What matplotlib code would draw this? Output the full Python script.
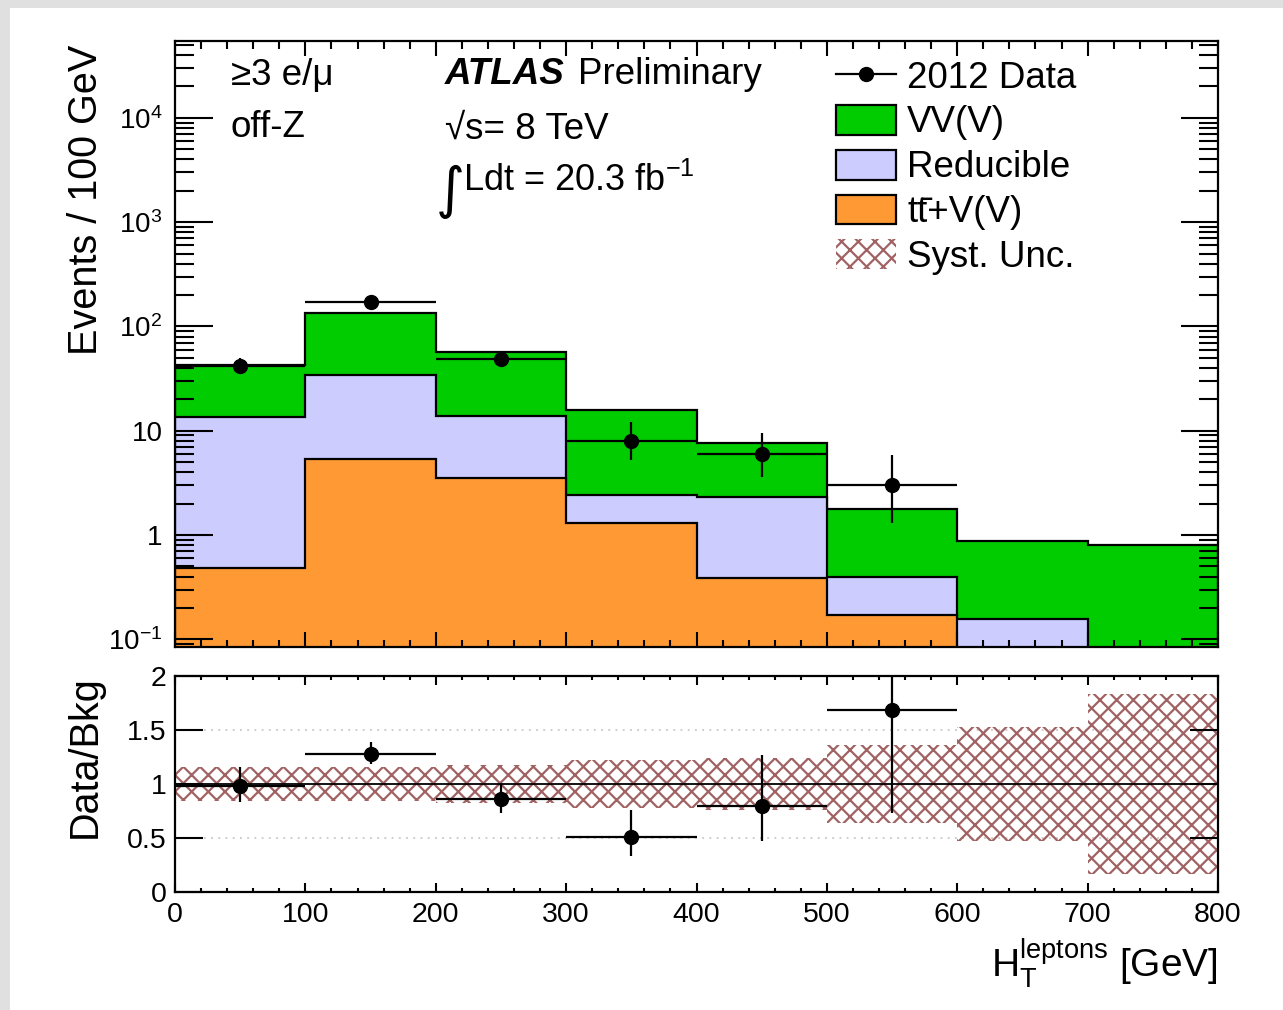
import numpy as np
import matplotlib
matplotlib.use("Agg")
import matplotlib.pyplot as plt
from matplotlib.patches import Patch, Rectangle
from matplotlib.lines import Line2D
from matplotlib.ticker import LogLocator, NullFormatter, MultipleLocator

plt.rcParams['font.family'] = ['Liberation Sans', 'DejaVu Sans']
plt.rcParams['mathtext.fontset'] = 'custom'
plt.rcParams['mathtext.rm'] = 'Liberation Sans'
plt.rcParams['mathtext.it'] = 'Liberation Sans:italic'
plt.rcParams['mathtext.bf'] = 'Liberation Sans:bold'
plt.rcParams['mathtext.default'] = 'regular'
plt.rcParams['hatch.linewidth'] = 1.6

# ── data (events / 100 GeV) ──
edges = [0, 100, 200, 300, 400, 500, 600, 700, 800]
ttv = [0.48, 5.3, 3.5, 1.3, 0.39, 0.17, 0.0, 0.0]
reducible = [13.1, 29.1, 10.3, 1.1, 1.91, 0.23, 0.157, 0.0]
vv = [29.1, 99.2, 43.4, 13.4, 5.27, 1.38, 0.72, 0.80]
syst_rel = [0.16, 0.16, 0.175, 0.22, 0.245, 0.365, 0.53, 0.835]

data_x = [50, 150, 250, 350, 450, 550]
data_y = [42, 171, 49, 8, 6, 3]
data_err_lo = [6.4, 13.0, 7.0, 2.8, 2.4, 1.7]
data_err_hi = [7.5, 14.1, 8.0, 4.0, 3.6, 2.9]

GREEN = '#00cc00'
LAVENDER = '#ccccff'
ORANGE = '#ff9933'
HATCH = '#a06262'

W, H = 1283, 1010
def px(x, y):
    return x / W, 1 - y / H

fig = plt.figure(figsize=(W / 100, H / 100), dpi=100)
fig.patches.append(Rectangle((0, 1 - 8 / H), 1, 8 / H, transform=fig.transFigure,
                             facecolor='#e0e0e0', edgecolor='none', zorder=-10))
fig.patches.append(Rectangle((0, 0), 10 / W, 1, transform=fig.transFigure,
                             facecolor='#e0e0e0', edgecolor='none', zorder=-10))

ax1 = fig.add_axes([175 / W, 1 - 646.7 / H, 1043 / W, 605.7 / H])
ax2 = fig.add_axes([175 / W, 1 - 892 / H, 1043 / W, 216 / H])

# ── upper panel: stacked backgrounds ──
ax1.set_yscale('log')
floor = 1e-3
ttv_a = np.array(ttv)
red_top = ttv_a + np.array(reducible)
tot = red_top + np.array(vv)
for top, col in [(tot, GREEN), (red_top, LAVENDER), (ttv_a, ORANGE)]:
    ax1.stairs(np.maximum(top, floor), edges, baseline=floor, fill=True,
               facecolor=col, edgecolor='black', linewidth=1.6)

ax1.errorbar(data_x, data_y, yerr=[data_err_lo, data_err_hi], xerr=50, fmt='o',
             color='black', markersize=10, elinewidth=1.6, capsize=0, zorder=5)

ax1.set_xlim(0, 800)
ax1.set_ylim(0.085, 5.45e4)
ax1.set_yticks([0.1, 1, 10, 100, 1e3, 1e4])
ax1.set_yticklabels(['10$^{-1}$', '1', '10', '10$^{2}$', '10$^{3}$', '10$^{4}$'])
ax1.yaxis.set_minor_locator(LogLocator(subs=np.arange(2, 10)))
ax1.yaxis.set_minor_formatter(NullFormatter())
ax1.xaxis.set_major_locator(MultipleLocator(100))
ax1.xaxis.set_minor_locator(MultipleLocator(20))
ax1.tick_params(axis='both', which='both', direction='in', top=True, right=True,
                width=1.5, labelsize=20)
ax1.tick_params(axis='y', which='major', length=27, pad=9)
ax1.tick_params(axis='y', which='minor', length=14)
ax1.tick_params(axis='x', which='major', length=11, labelbottom=False)
ax1.tick_params(axis='x', which='minor', length=5.4)
for s in ax1.spines.values():
    s.set_linewidth(1.6)

# legend
handles = [
    Line2D([], [], color='black', marker='o', markersize=10, linewidth=1.6),
    Patch(facecolor=GREEN, edgecolor='black', linewidth=1.6),
    Patch(facecolor=LAVENDER, edgecolor='black', linewidth=1.6),
    Patch(facecolor=ORANGE, edgecolor='black', linewidth=1.6),
    Patch(facecolor='none', edgecolor=HATCH, hatch='xx', linewidth=0),
]
labels = ['2012 Data', 'VV(V)', 'Reducible', 'tt\u0304+V(V)', 'Syst. Unc.']
fig.legend(handles, labels, loc='upper left', bbox_to_anchor=px(836, 60),
           frameon=False, fontsize=26.5, handlelength=1.63, handleheight=0.87,
           handletextpad=0.3, labelspacing=0.25, borderpad=0, borderaxespad=0,
           numpoints=1)

# labels in the upper panel
fig.text(*px(231, 85), '≥3 e/μ', fontsize=26.5)
fig.text(*px(231, 137), 'off-Z', fontsize=26.5)
fig.text(*px(445, 84), 'ATLAS', fontsize=26.5, fontweight='bold', fontstyle='italic')
fig.text(*px(578, 84), 'Preliminary', fontsize=26.5)
fig.text(*px(445, 139), '√s= 8 TeV', fontsize=26.5)
fig.text(*px(436, 207), '∫', fontsize=40, family=['DejaVu Sans'])
fig.text(*px(463, 191), 'Ldt = 20.3 fb$^{-1}$', fontsize=26)

fig.text(*px(86, 45), 'Events / 100 GeV', rotation=90, ha='center', va='top', fontsize=28.5)

# ── lower panel: ratio ──
bkg = tot
ax2.bar(edges[:-1], 2 * np.array(syst_rel), bottom=1 - np.array(syst_rel), width=100,
        align='edge', color='none', edgecolor=HATCH, hatch='xx', linewidth=0, zorder=1)
ax2.axhline(1, color='black', linewidth=1.3, zorder=2)
for yv in [0.5, 1.5]:
    ax2.axhline(yv, color='#c8c8c8', linestyle=(0, (1, 3)), linewidth=1.3, zorder=0)

idx = [int(x // 100) for x in data_x]
ratio = np.array(data_y) / bkg[idx]
r_lo = np.array(data_err_lo) / bkg[idx]
r_hi = np.array(data_err_hi) / bkg[idx]
ax2.errorbar(data_x, ratio, yerr=[r_lo, r_hi], xerr=50, fmt='o', color='black',
             markersize=10, elinewidth=1.6, capsize=0, zorder=5)

ax2.set_xlim(0, 800)
ax2.set_ylim(0, 2)
ax2.set_yticks([0, 0.5, 1, 1.5, 2])
ax2.set_yticklabels(['0', '0.5', '1', '1.5', '2'])
ax2.xaxis.set_major_locator(MultipleLocator(100))
ax2.xaxis.set_minor_locator(MultipleLocator(20))
ax2.tick_params(axis='both', which='both', direction='in', top=True, right=True,
                width=1.5, labelsize=20.5)
ax2.tick_params(axis='y', which='major', length=20, pad=6)
ax2.tick_params(axis='x', which='major', length=6.5, pad=7)
ax2.tick_params(axis='x', which='minor', length=3)
for s in ax2.spines.values():
    s.set_linewidth(1.6)

fig.text(*px(85, 757), 'Data/Bkg', rotation=90, ha='center', va='center', fontsize=28.5)
fig.text(*px(1218, 977), r'H$_{T}^{leptons}$ [GeV]', ha='right', fontsize=28)

fig.savefig('out.png', dpi=100)
